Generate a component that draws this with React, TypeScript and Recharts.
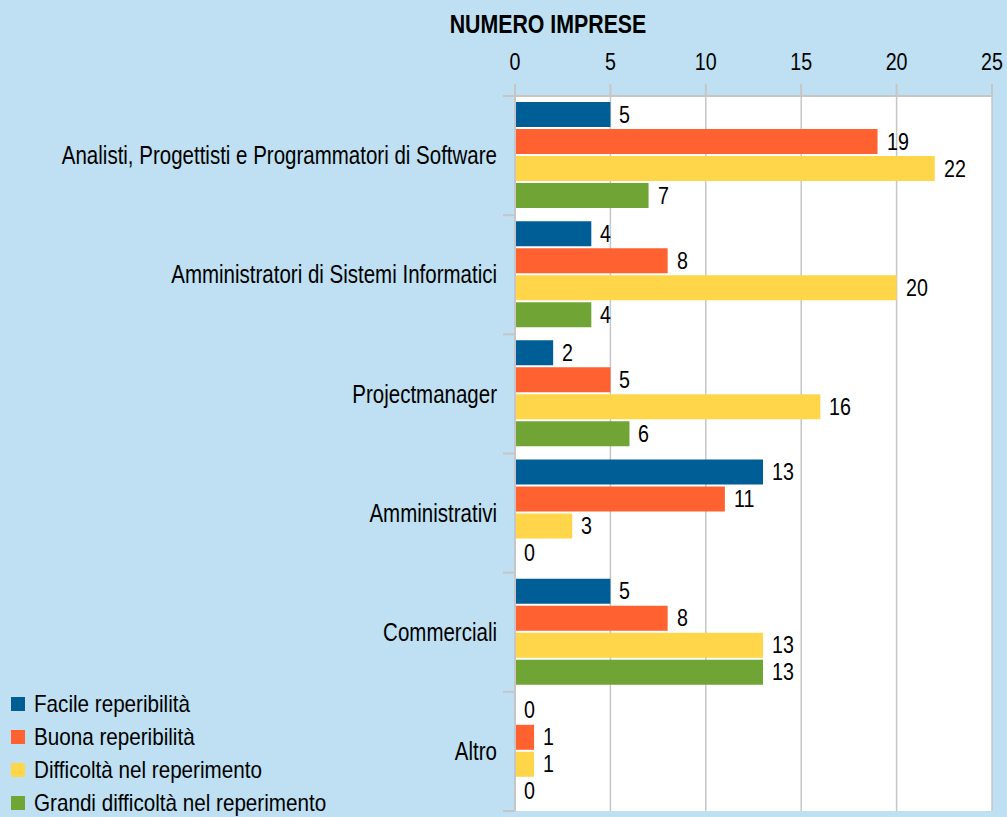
import React from 'react';
import { BarChart, Bar, XAxis, YAxis, CartesianGrid, LabelList, Legend } from 'recharts';

const categories = [
  'Analisti, Progettisti e Programmatori di Software',
  'Amministratori di Sistemi Informatici',
  'Projectmanager',
  'Amministrativi',
  'Commerciali',
  'Altro',
];
const facile = [5, 4, 2, 13, 5, 0];
const buona = [19, 8, 5, 11, 8, 1];
const difficolta = [22, 20, 16, 3, 13, 1];
const grandi = [7, 4, 6, 0, 13, 0];
const xTicks = [0, 5, 10, 15, 20, 25];

const seriesDefs = [
  { key: 'facile', name: 'Facile reperibilità', color: '#005E97', values: facile },
  { key: 'buona', name: 'Buona reperibilità', color: '#FF6130', values: buona },
  { key: 'difficolta', name: 'Difficoltà nel reperimento', color: '#FFD54A', values: difficolta },
  { key: 'grandi', name: 'Grandi difficoltà nel reperimento', color: '#70A536', values: grandi },
];

const data = categories.map((name, i) => {
  const row: any = { name };
  seriesDefs.forEach((s) => (row[s.key] = s.values[i]));
  return row;
});

const FONT = "'Liberation Sans', Arial, sans-serif";
const SX = 0.82;
const GRAY = '#C6C6C6';
const W = 1007;
const H = 817;
const M = { top: 56, right: 15, bottom: 6, left: 0 };
const X_AXIS_H = 40;
const PLOT_H = H - M.top - X_AXIS_H - M.bottom;
const BAND = PLOT_H / categories.length;

const CatTick = (props: any) => {
  const { x, y, payload, index } = props;
  return (
    <g>
      <text
        transform={`translate(${x},${y}) scale(${SX},1)`}
        textAnchor="end"
        dominantBaseline="central"
        fontSize={25}
        fontFamily={FONT}
        fill="#000"
      >
        {payload.value}
      </text>
      <line x1={x + 6} x2={x + 18} y1={y - BAND / 2} y2={y - BAND / 2} stroke={GRAY} strokeWidth={2} />
      {index === categories.length - 1 && (
        <line x1={x + 6} x2={x + 18} y1={y + BAND / 2} y2={y + BAND / 2} stroke={GRAY} strokeWidth={2} />
      )}
    </g>
  );
};

const NumTick = (props: any) => {
  const { x, y, payload } = props;
  return (
    <text
      transform={`translate(${x},${y}) scale(${SX},1)`}
      textAnchor="middle"
      fontSize={24}
      fontFamily={FONT}
      fill="#000"
    >
      {payload.value}
    </text>
  );
};

const ValueLabel = (props: any) => {
  const { x, y, width, height, value } = props;
  const w = Math.round(Number(width) || 0);
  return (
    <text
      transform={`translate(${x + w + 9},${y + height / 2}) scale(${SX},1)`}
      textAnchor="start"
      dominantBaseline="central"
      fontSize={24}
      fontFamily={FONT}
      fill="#000"
    >
      {value}
    </text>
  );
};

const LegendContent = () => (
  <div style={{ fontFamily: FONT, fontSize: 24, color: '#000' }}>
    {seriesDefs.map((s) => (
      <div key={s.key} style={{ display: 'flex', alignItems: 'center', height: 33, whiteSpace: 'nowrap' }}>
        <span style={{ display: 'inline-block', width: 14, height: 14, background: s.color, marginRight: 9, flex: 'none' }} />
        <span style={{ display: 'inline-block', transform: 'scaleX(0.86)', transformOrigin: 'left center' }}>{s.name}</span>
      </div>
    ))}
  </div>
);

export default function App() {
  return (
    <div style={{ position: 'absolute', left: 0, top: 0, width: W, height: H, background: '#BEE0F2', overflow: 'hidden' }}>
      <div
        style={{
          position: 'absolute',
          left: 398,
          width: 300,
          top: 9,
          textAlign: 'center',
          fontFamily: FONT,
          fontWeight: 'bold',
          fontSize: 26,
          lineHeight: '30px',
          color: '#000',
          transform: `scaleX(${SX})`,
          transformOrigin: 'center center',
          whiteSpace: 'nowrap',
        }}
      >
        NUMERO IMPRESE
      </div>
      <BarChart
        width={W}
        height={H}
        layout="vertical"
        data={data}
        margin={M}
        barCategoryGap="5%"
        barGap={2}
      >
        <CartesianGrid horizontal={false} stroke={GRAY} strokeWidth={1.5} fill="#FFFFFF" />
        <XAxis
          type="number"
          orientation="top"
          domain={[0, 25]}
          ticks={xTicks}
          height={X_AXIS_H}
          tickSize={12}
          tickMargin={14}
          axisLine={{ stroke: GRAY, strokeWidth: 2 }}
          tickLine={{ stroke: GRAY, strokeWidth: 2 }}
          tick={<NumTick />}
          interval={0}
        />
        <XAxis
          xAxisId="bottom"
          type="number"
          orientation="bottom"
          domain={[0, 25]}
          height={0}
          tick={false}
          tickLine={false}
          axisLine={{ stroke: GRAY, strokeWidth: 2 }}
        />
        <YAxis
          type="category"
          dataKey="name"
          width={515}
          tickSize={0}
          tickMargin={18}
          tickLine={false}
          axisLine={{ stroke: GRAY, strokeWidth: 2 }}
          tick={<CatTick />}
          interval={0}
        />
        <Legend
          layout="vertical"
          align="center"
          verticalAlign="middle"
          content={<LegendContent />}
          wrapperStyle={{ position: 'absolute', left: 11, top: 687, width: 400, height: 134 }}
        />
        {seriesDefs.map((s) => (
          <Bar key={s.key} dataKey={s.key} name={s.name} fill={s.color} isAnimationActive={false} minPointSize={0.01}>
            <LabelList dataKey={s.key} content={<ValueLabel />} />
          </Bar>
        ))}
      </BarChart>
    </div>
  );
}
